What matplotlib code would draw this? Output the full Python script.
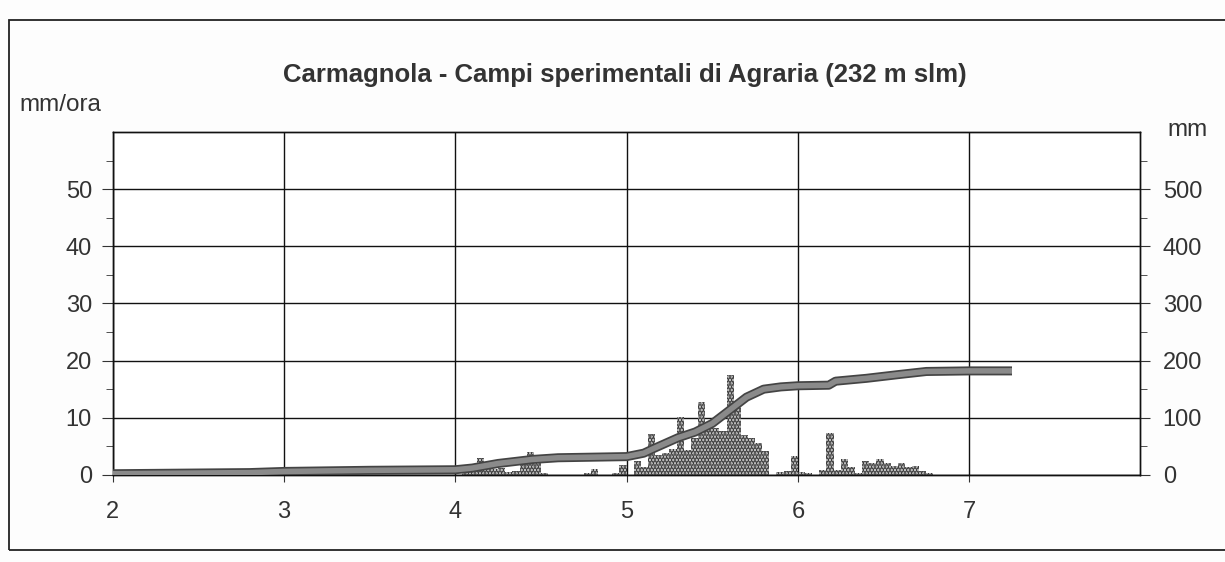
import matplotlib.pyplot as plt
from matplotlib.patches import Rectangle

plt.rcParams['font.family'] = ['Liberation Sans', 'DejaVu Sans']

# piogge orarie (mm/ora): giorno, ora di inizio, valore
rain_day = [2, 2,
            4, 4, 4, 4, 4, 4, 4, 4, 4, 4, 4, 4, 4, 4, 4, 4,
            5, 5, 5, 5, 5, 5, 5, 5, 5, 5, 5, 5, 5, 5, 5, 5, 5, 5, 5, 5, 5, 5, 5,
            6, 6, 6, 6, 6, 6, 6, 6, 6, 6, 6, 6, 6, 6, 6, 6, 6, 6]
rain_hour = [19, 20,
             1, 2, 3, 4, 5, 6, 7, 8, 9, 10, 11, 12, 18, 19, 22, 23,
             1, 2, 3, 4, 5, 6, 7, 8, 9, 10, 11, 12, 13, 14, 15, 16, 17, 18, 19, 21, 22, 23, 0,
             0, 1, 3, 4, 5, 6, 7, 8, 9, 10, 11, 12, 13, 14, 15, 16, 17, 18]
rain_mmh = [0.5, 1.0,
            0.7, 1.0, 3.0, 1.2, 1.0, 1.2, 0.5, 0.6, 2.0, 4.0, 3.5, 0.4, 0.4, 1.0, 0.4, 1.8,
            2.5, 1.4, 7.2, 3.5, 3.8, 4.5, 10.2, 4.4, 6.5, 12.7, 8.8, 8.2, 7.6, 17.5, 12.0, 7.0,
            6.5, 5.5, 4.2, 0.5, 0.7, 3.3, 0.0,
            0.5, 0.3, 0.8, 7.3, 0.8, 2.7, 1.3, 0.3, 2.5, 2.0, 2.8, 2.0, 1.6, 2.0, 1.3, 1.6, 0.7, 0.3]
rain_day[40] = 6  # ultima ora del giorno 5 -> 0 del giorno 6

# pioggia cumulata (mm)
cum_x = [2.0, 2.8, 3.0, 3.5, 4.0, 4.1, 4.25, 4.45, 4.6, 5.0, 5.1, 5.15, 5.3, 5.4,
         5.5, 5.6, 5.7, 5.8, 5.9, 6.0, 6.18, 6.22, 6.4, 6.6, 6.75, 7.0, 7.25]
cum_mm = [2, 4, 6, 8, 9, 12, 20, 27, 30, 32, 38, 45, 65, 75,
          90, 113, 136, 150, 154, 156, 157, 164, 169, 176, 181, 182, 182]

x_ticks = [2, 3, 4, 5, 6, 7]
left_ticks = [0, 10, 20, 30, 40, 50]
right_ticks = [0, 100, 200, 300, 400, 500]

fig = plt.figure(figsize=(12.25, 5.62), dpi=100)
fig.patch.set_facecolor('#fdfdfd')

# cornice esterna
fig.patches.append(Rectangle((0.007, 0.022), 1.1, 0.942, transform=fig.transFigure,
                             fill=False, edgecolor='#222222', linewidth=1.3))

ax = fig.add_axes([0.092, 0.155, 0.839, 0.61])
ax.set_facecolor('white')

bar_x = [d + h / 24 for d, h in zip(rain_day, rain_hour)]
plt.rcParams['hatch.linewidth'] = 2.2
ax.bar(bar_x, rain_mmh, width=1 / 24, align='edge', facecolor='#d4d4d4',
       edgecolor='#3c3c3c', hatch='.....', linewidth=0, zorder=2)

ax.set_xlim(2, 8)
ax.set_ylim(0, 60)
ax.set_xticks(x_ticks)
ax.set_yticks(left_ticks)
ax.set_yticks(range(5, 60, 10), minor=True)
ax.grid(True, which='major', color='#111111', linewidth=1.0, zorder=1)
ax.set_axisbelow(True)
for s in ax.spines.values():
    s.set_color('#111111')
    s.set_linewidth(1.0)
ax.tick_params(axis='x', direction='out', length=5, pad=14, labelsize=17, colors='#333333')
ax.tick_params(axis='y', which='major', direction='out', length=8, pad=7, labelsize=17,
               colors='#333333')
ax.tick_params(axis='y', which='minor', direction='out', length=5, colors='#333333')

ax2 = ax.twinx()
ax2.plot(cum_x, cum_mm, color='#444444', linewidth=6.5, solid_capstyle='butt', zorder=3)
ax2.plot(cum_x, cum_mm, color='#8a8a8a', linewidth=4.0, solid_capstyle='butt', zorder=4)
ax2.set_ylim(0, 600)
ax2.set_yticks(right_ticks)
ax2.set_yticks(range(50, 600, 100), minor=True)
ax2.tick_params(axis='y', which='major', direction='out', length=7, pad=9, labelsize=17,
                colors='#333333')
ax2.tick_params(axis='y', which='minor', direction='out', length=5, colors='#333333')
for s in ax2.spines.values():
    s.set_color('#111111')
    s.set_linewidth(1.0)

fig.text(0.51, 0.867, 'Carmagnola - Campi sperimentali di Agraria (232 m slm)',
         ha='center', va='center', fontsize=18.5, fontweight='bold', color='#333333')
fig.text(0.016, 0.813, 'mm/ora', ha='left', va='center', fontsize=17.5, color='#333333')
fig.text(0.953, 0.769, 'mm', ha='left', va='center', fontsize=17.5, color='#333333')

fig.savefig('out.png', dpi=100)
